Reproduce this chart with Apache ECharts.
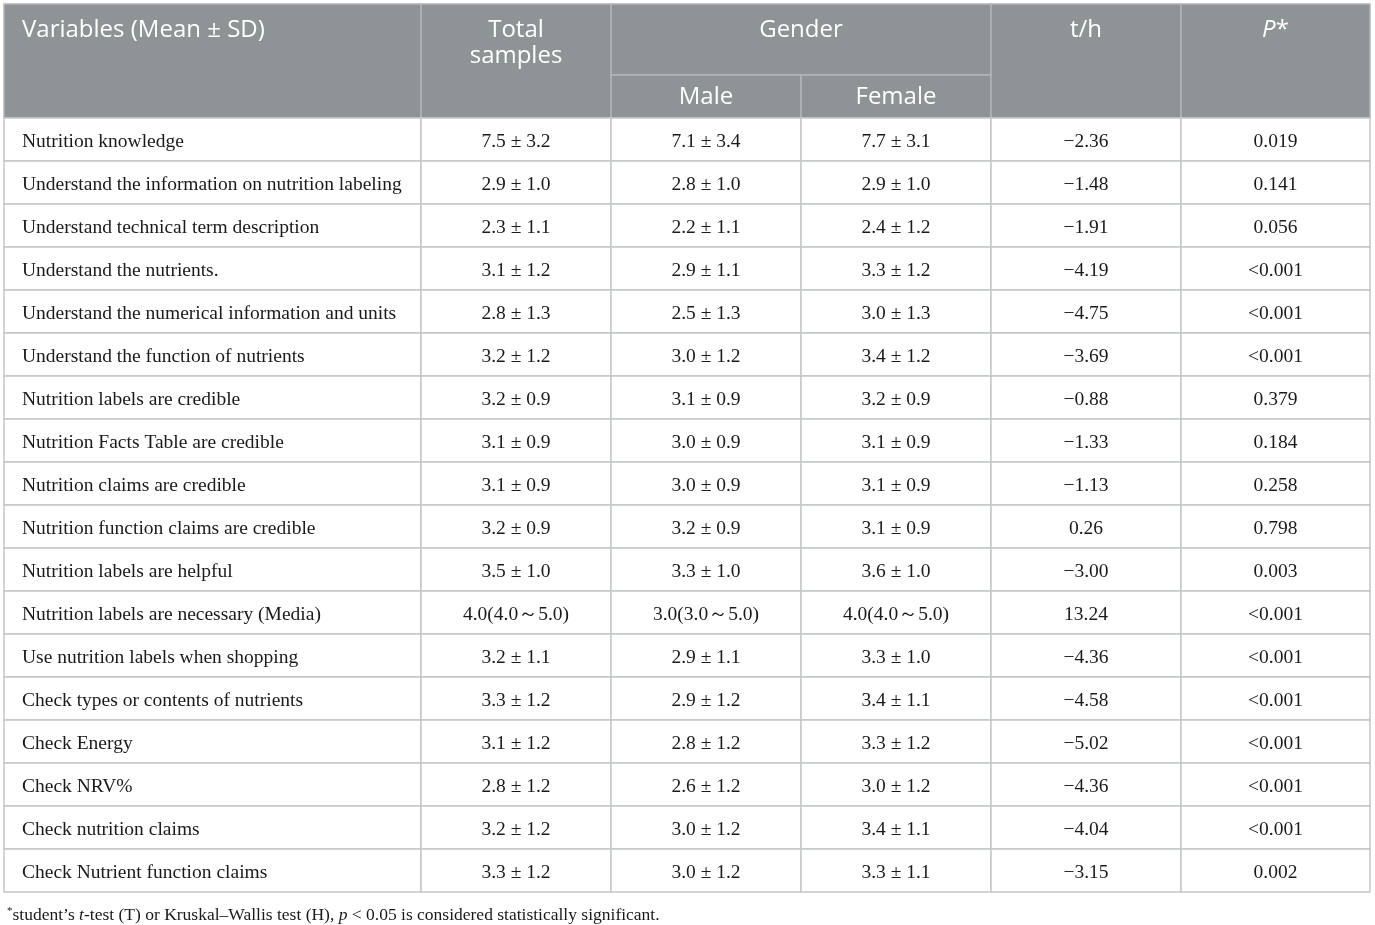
<!DOCTYPE html>
<html>
<head>
<meta charset="utf-8">
<script src="https://cdn.jsdelivr.net/npm/echarts@6/dist/echarts.min.js"></script>
<style>
  html, body { margin: 0; padding: 0; background: #fff; }
  #table_chart { width: 1375px; height: 925px; }
</style>
</head>
<body>
<div id="table_chart"></div>
<script>
// table values
var variables = [
  'Nutrition knowledge',
  'Understand the information on nutrition labeling',
  'Understand technical term description',
  'Understand the nutrients.',
  'Understand the numerical information and units',
  'Understand the function of nutrients',
  'Nutrition labels are credible',
  'Nutrition Facts Table are credible',
  'Nutrition claims are credible',
  'Nutrition function claims are credible',
  'Nutrition labels are helpful',
  'Nutrition labels are necessary (Media)',
  'Use nutrition labels when shopping',
  'Check types or contents of nutrients',
  'Check Energy',
  'Check NRV%',
  'Check nutrition claims',
  'Check Nutrient function claims'
];
var totalSamples = ['7.5 ± 3.2', '2.9 ± 1.0', '2.3 ± 1.1', '3.1 ± 1.2', '2.8 ± 1.3', '3.2 ± 1.2',
  '3.2 ± 0.9', '3.1 ± 0.9', '3.1 ± 0.9', '3.2 ± 0.9', '3.5 ± 1.0', '4.0(4.0～5.0)',
  '3.2 ± 1.1', '3.3 ± 1.2', '3.1 ± 1.2', '2.8 ± 1.2', '3.2 ± 1.2', '3.3 ± 1.2'];
var maleValues = ['7.1 ± 3.4', '2.8 ± 1.0', '2.2 ± 1.1', '2.9 ± 1.1', '2.5 ± 1.3', '3.0 ± 1.2',
  '3.1 ± 0.9', '3.0 ± 0.9', '3.0 ± 0.9', '3.2 ± 0.9', '3.3 ± 1.0', '3.0(3.0～5.0)',
  '2.9 ± 1.1', '2.9 ± 1.2', '2.8 ± 1.2', '2.6 ± 1.2', '3.0 ± 1.2', '3.0 ± 1.2'];
var femaleValues = ['7.7 ± 3.1', '2.9 ± 1.0', '2.4 ± 1.2', '3.3 ± 1.2', '3.0 ± 1.3', '3.4 ± 1.2',
  '3.2 ± 0.9', '3.1 ± 0.9', '3.1 ± 0.9', '3.1 ± 0.9', '3.6 ± 1.0', '4.0(4.0～5.0)',
  '3.3 ± 1.0', '3.4 ± 1.1', '3.3 ± 1.2', '3.0 ± 1.2', '3.4 ± 1.1', '3.3 ± 1.1'];
var tValues = ['−2.36', '−1.48', '−1.91', '−4.19', '−4.75', '−3.69', '−0.88', '−1.33', '−1.13',
  '0.26', '−3.00', '13.24', '−4.36', '−4.58', '−5.02', '−4.36', '−4.04', '−3.15'];
var pValues = ['0.019', '0.141', '0.056', '<0.001', '<0.001', '<0.001', '0.379', '0.184', '0.258',
  '0.798', '0.003', '<0.001', '<0.001', '<0.001', '<0.001', '<0.001', '<0.001', '0.002'];
var headerLabels = ['Variables (Mean ± SD)', 'Total\nsamples', 'Gender', 'Male', 'Female', 't/h', '{i|P}{n|*}'];
var footnote = '{sup|*}student\u2019s {i|t}-test (T) or Kruskal\u2013Wallis test (H), {i|p} < 0.05 is considered statistically significant.';

// layout: relative column widths and header row heights (in body-row units)
var colWidths = [2.195, 1, 1, 1, 1, 0.995];
var headRow1 = 1.65, headRow2 = 1;

var colEdges = [0];
colWidths.forEach(function (w, i) { colEdges.push(colEdges[i] + w); });
var headH = headRow1 + headRow2;
var totalH = headH + variables.length;

// build cell list: [x0, x1, y0, y1]
var cells = [];
function addCell(c0, c1, y0, y1, text, kind) {
  cells.push({ value: [colEdges[c0], colEdges[c1], y0, y1], text: text, kind: kind });
}
addCell(0, 1, 0, headH, headerLabels[0], 'headLeft');
addCell(1, 2, 0, headH, headerLabels[1], 'headTop');
addCell(2, 4, 0, headRow1, headerLabels[2], 'headTop');
addCell(2, 3, headRow1, headH, headerLabels[3], 'headMid');
addCell(3, 4, headRow1, headH, headerLabels[4], 'headMid');
addCell(4, 5, 0, headH, headerLabels[5], 'headTop');
addCell(5, 6, 0, headH, headerLabels[6], 'headTop');

variables.forEach(function (v, i) {
  var y0 = headH + i, y1 = y0 + 1;
  addCell(0, 1, y0, y1, v, 'bodyLeft');
  addCell(1, 2, y0, y1, totalSamples[i], 'body');
  addCell(2, 3, y0, y1, maleValues[i], 'body');
  addCell(3, 4, y0, y1, femaleValues[i], 'body');
  addCell(4, 5, y0, y1, tValues[i], 'body');
  addCell(5, 6, y0, y1, pValues[i], 'body');
});

var myChart = echarts.init(document.getElementById('table_chart'));

function renderCell(params, api) {
  var cell = cells[params.dataIndex];
  var p0 = api.coord([api.value(0), api.value(2)]);
  var p1 = api.coord([api.value(1), api.value(3)]);
  var w = p1[0] - p0[0], h = p1[1] - p0[1];
  var isHead = cell.kind.indexOf('head') === 0;
  var left = cell.kind === 'headLeft' || cell.kind === 'bodyLeft';
  var tx = left ? p0[0] + 18 : p0[0] + w / 2;
  var ty, vAlign;
  if (cell.kind === 'headLeft' || cell.kind === 'headTop') {
    ty = p0[1] + 13; vAlign = 'top';
  } else {
    ty = p0[1] + h / 2 + (isHead ? 1 : 2); vAlign = 'middle';
  }
  return {
    type: 'group',
    children: [
      {
        type: 'rect',
        shape: { x: p0[0], y: p0[1], width: w, height: h },
        style: {
          fill: isHead ? '#8e9396' : '#ffffff',
          stroke: isHead ? '#b2b6b8' : '#c5c8c8',
          lineWidth: 1.5
        }
      },
      {
        type: 'text',
        z2: 10,
        style: {
          x: tx, y: ty,
          text: cell.text,
          align: left ? 'left' : 'center',
          verticalAlign: vAlign,
          fill: isHead ? '#ffffff' : '#1a1a1a',
          fontFamily: isHead ? 'Open Sans' : 'Liberation Serif',
          fontSize: isHead ? 24 : 19.5,
          lineHeight: isHead ? 26 : 22,
          rich: {
            i: { fontStyle: 'italic', fontFamily: 'Open Sans', fontSize: 24, fill: '#ffffff' },
            n: { fontFamily: 'Open Sans', fontSize: 24, fill: '#ffffff' }
          }
        }
      }
    ]
  };
}

var option = {
  animation: false,
  title: {
    text: footnote,
    left: 2,
    top: 901,
    textStyle: {
      fontFamily: 'Liberation Serif',
      fontSize: 17.5,
      fontWeight: 'normal',
      color: '#1a1a1a',
      rich: {
        i: { fontStyle: 'italic', fontFamily: 'Liberation Serif', fontSize: 17.5, color: '#1a1a1a' },
        sup: { fontSize: 11, fontFamily: 'Liberation Serif', color: '#1a1a1a', verticalAlign: 'top', padding: [0, 0, 7, 0] }
      }
    }
  },
  grid: { left: 4, top: 4, width: 1366, height: 888 },
  xAxis: { type: 'value', min: 0, max: colEdges[colEdges.length - 1], show: false },
  yAxis: { type: 'value', min: 0, max: totalH, inverse: true, show: false },
  series: [{
    type: 'custom',
    clip: false,
    renderItem: renderCell,
    encode: { x: [0, 1], y: [2, 3] },
    data: cells.map(function (c) { return c.value; })
  }]
};

myChart.setOption(option);
</script>
</body>
</html>
